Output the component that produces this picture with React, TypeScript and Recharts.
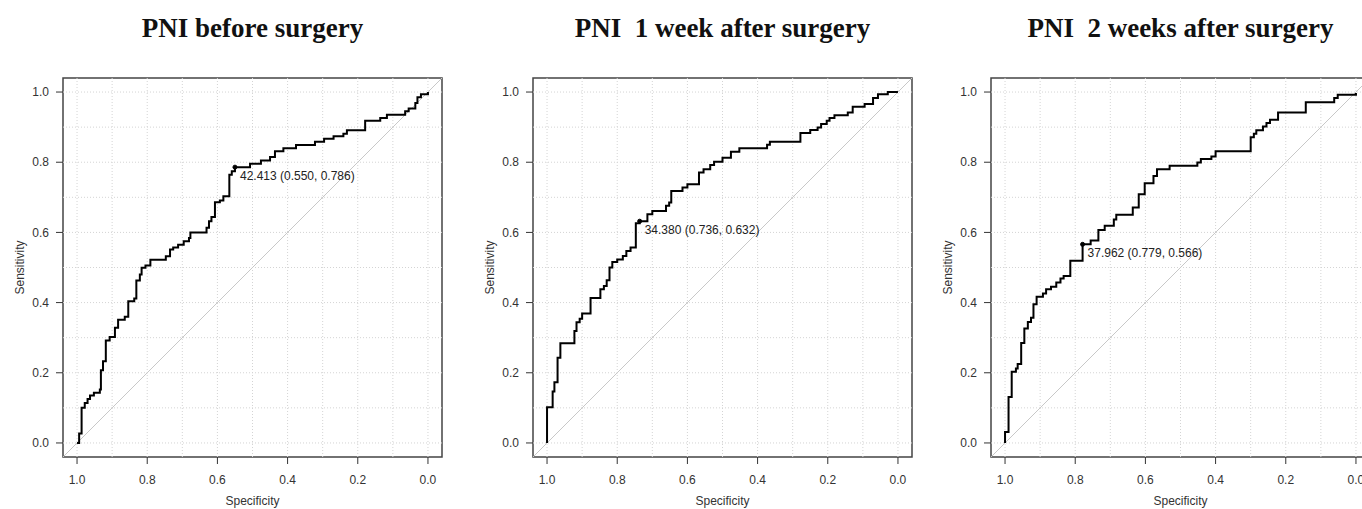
import React from 'react';
import { LineChart, Line, XAxis, YAxis, ReferenceLine, ReferenceArea, ReferenceDot } from 'recharts';

// ROC step points: specificity / sensitivity (top of each vertical step)
const spec1 = [1.0, 0.994, 0.987, 0.978, 0.970, 0.963, 0.952, 0.935, 0.932, 0.926, 0.918, 0.907, 0.892, 0.883, 0.864, 0.854, 0.837, 0.831, 0.821, 0.816, 0.805, 0.791, 0.747, 0.735, 0.726, 0.712, 0.696, 0.681, 0.677, 0.631, 0.624, 0.617, 0.607, 0.593, 0.583, 0.566, 0.559, 0.550, 0.507, 0.476, 0.450, 0.436, 0.412, 0.376, 0.322, 0.296, 0.269, 0.241, 0.231, 0.179, 0.136, 0.117, 0.065, 0.055, 0.036, 0.030, 0.020, 0.0];
const sens1 = [0, 0.027, 0.10, 0.114, 0.125, 0.135, 0.143, 0.152, 0.207, 0.233, 0.292, 0.302, 0.328, 0.351, 0.36, 0.404, 0.412, 0.463, 0.48, 0.499, 0.506, 0.522, 0.532, 0.551, 0.557, 0.565, 0.575, 0.584, 0.600, 0.613, 0.632, 0.644, 0.686, 0.691, 0.703, 0.764, 0.774, 0.786, 0.796, 0.805, 0.815, 0.831, 0.840, 0.849, 0.858, 0.867, 0.874, 0.881, 0.891, 0.918, 0.926, 0.935, 0.945, 0.953, 0.969, 0.985, 0.994, 1.0];

const spec2 = [1.0, 1.0, 0.984, 0.979, 0.970, 0.962, 0.922, 0.916, 0.907, 0.900, 0.876, 0.848, 0.838, 0.830, 0.822, 0.814, 0.800, 0.784, 0.774, 0.762, 0.747, 0.736, 0.714, 0.700, 0.661, 0.652, 0.646, 0.614, 0.600, 0.567, 0.554, 0.535, 0.524, 0.500, 0.476, 0.452, 0.373, 0.365, 0.278, 0.250, 0.229, 0.219, 0.203, 0.195, 0.181, 0.143, 0.129, 0.095, 0.071, 0.057, 0.029, 0.0];
const sens2 = [0, 0.102, 0.147, 0.173, 0.243, 0.284, 0.319, 0.344, 0.354, 0.369, 0.413, 0.438, 0.447, 0.464, 0.500, 0.516, 0.523, 0.533, 0.547, 0.557, 0.626, 0.632, 0.652, 0.661, 0.676, 0.685, 0.718, 0.728, 0.737, 0.771, 0.780, 0.792, 0.801, 0.813, 0.830, 0.840, 0.850, 0.858, 0.883, 0.892, 0.899, 0.909, 0.918, 0.926, 0.934, 0.942, 0.958, 0.966, 0.983, 0.994, 1.0, 1.0];

const spec3 = [1.0, 1.0, 0.990, 0.981, 0.969, 0.964, 0.954, 0.945, 0.935, 0.926, 0.919, 0.910, 0.892, 0.883, 0.869, 0.854, 0.842, 0.833, 0.814, 0.779, 0.756, 0.734, 0.716, 0.690, 0.683, 0.636, 0.619, 0.602, 0.577, 0.567, 0.531, 0.452, 0.442, 0.412, 0.400, 0.300, 0.291, 0.284, 0.265, 0.255, 0.245, 0.222, 0.143, 0.062, 0.052, 0.0];
const sens3 = [0, 0.031, 0.131, 0.203, 0.212, 0.225, 0.285, 0.326, 0.345, 0.357, 0.395, 0.417, 0.426, 0.438, 0.445, 0.457, 0.469, 0.476, 0.519, 0.566, 0.577, 0.607, 0.619, 0.637, 0.650, 0.671, 0.709, 0.740, 0.761, 0.780, 0.790, 0.799, 0.809, 0.816, 0.831, 0.871, 0.881, 0.891, 0.902, 0.912, 0.921, 0.942, 0.971, 0.983, 0.992, 0.997];

const titles = ['PNI before surgery', 'PNI  1 week after surgery', 'PNI  2 weeks after surgery'];
const cutoffs = ['42.413', '34.380', '37.962'];
const bestSpec = [0.550, 0.736, 0.779];
const bestSens = [0.786, 0.632, 0.566];

const axisTicks = [0, 0.2, 0.4, 0.6, 0.8, 1.0];
const gridTicks = [0, 0.1, 0.2, 0.3, 0.4, 0.5, 0.6, 0.7, 0.8, 0.9, 1.0];

const FONT = '"Liberation Sans", Arial, sans-serif';
const AXIS = '#333';

const YLabel = ({ viewBox }: any) => {
  const x = viewBox.x + 20;
  const y = 78 + 379 / 2;
  return (
    <text x={x} y={y} dy="0.35em" transform={`rotate(-90, ${x}, ${y})`} textAnchor="middle"
      fontSize={12} fontFamily={FONT} fill={AXIS}>Sensitivity</text>
  );
};

const Panel = ({ idx, left, spec, sens }: any) => {
  const data = spec.map((s: number, i: number) => ({ sp: s, se: sens[i] }));
  const label = `${cutoffs[idx]} (${bestSpec[idx].toFixed(3)}, ${bestSens[idx].toFixed(3)})`;
  const BestLabel = ({ viewBox }: any) => {
    const cx = viewBox.x + viewBox.width / 2;
    const cy = viewBox.y + viewBox.height / 2;
    return (
      <text x={cx + 5} y={cy + 13} fontSize={12} fontFamily={FONT} fill="#222">{label}</text>
    );
  };
  return (
    <div style={{ position: 'absolute', left, top: 0 }}>
      <div style={{
        position: 'absolute', left: 63, width: 379, top: 13, textAlign: 'center', whiteSpace: 'pre',
        fontFamily: '"Liberation Serif", "Times New Roman", serif', fontWeight: 'bold', fontSize: 27, color: '#111',
      }}>{titles[idx]}</div>
      <LineChart width={452} height={509} data={data} margin={{ top: 78, right: 10, bottom: 0, left: 0 }}>
        {gridTicks.map(v => (
          <ReferenceLine key={`gx${v}`} x={v} stroke="#d4d4d4" strokeDasharray="1 2" />
        ))}
        {gridTicks.map(v => (
          <ReferenceLine key={`gy${v}`} y={v} stroke="#d4d4d4" strokeDasharray="1 2" />
        ))}
        <XAxis dataKey="sp" type="number" domain={[-0.04, 1.04]} reversed ticks={axisTicks}
          tickFormatter={(v: number) => v.toFixed(1)} axisLine={false} tickSize={7} tickMargin={11}
          height={52} stroke={AXIS} tick={{ fill: AXIS, fontSize: 12, fontFamily: FONT }}
          label={{ value: 'Specificity', position: 'insideBottom', offset: 4, fill: AXIS, fontSize: 12, fontFamily: FONT }} />
        <YAxis type="number" domain={[-0.04, 1.04]} ticks={axisTicks} width={63}
          tickFormatter={(v: number) => v.toFixed(1)} axisLine={false} tickSize={7} tickMargin={7}
          stroke={AXIS} tick={{ fill: AXIS, fontSize: 12, fontFamily: FONT }}
          label={<YLabel />} />
        <ReferenceLine segment={[{ x: 1.04, y: -0.04 }, { x: -0.04, y: 1.04 }]} stroke="#c8c8c8" ifOverflow="visible" />
        <ReferenceArea x1={-0.04} x2={1.04} y1={-0.04} y2={1.04} fill="none" fillOpacity={0}
          stroke="#444" strokeWidth={1.5} />
        <Line type="stepAfter" dataKey="se" stroke="#000" strokeWidth={2} dot={false} isAnimationActive={false} />
        <ReferenceDot x={bestSpec[idx]} y={bestSens[idx]} r={2} fill="#000" stroke="#000" label={<BestLabel />} />
      </LineChart>
    </div>
  );
};

export default function App() {
  return (
    <div style={{ position: 'absolute', left: 0, top: 0, width: 1362, height: 509, overflow: 'hidden', background: '#fff' }}>
      <Panel idx={0} left={0} spec={spec1} sens={sens1} />
      <Panel idx={1} left={470} spec={spec2} sens={sens2} />
      <Panel idx={2} left={928} spec={spec3} sens={sens3} />
    </div>
  );
}
